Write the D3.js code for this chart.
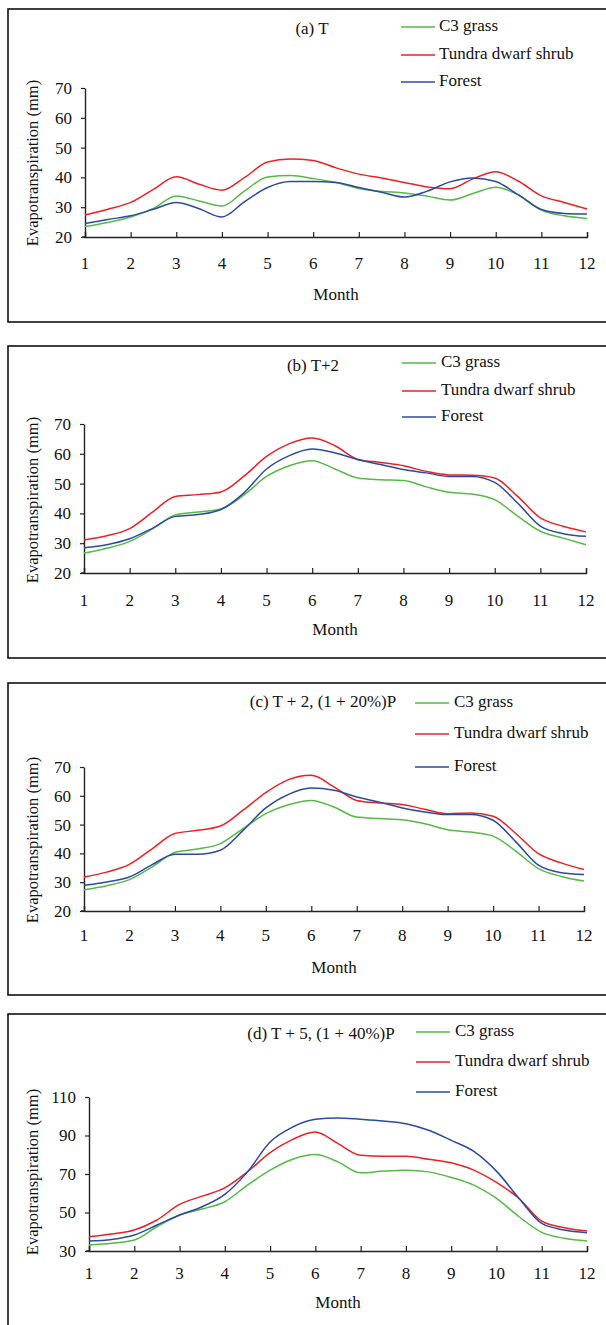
<!DOCTYPE html>
<html>
<head>
<meta charset="utf-8">
<script src="https://cdn.jsdelivr.net/npm/d3@7"></script>
<style>
  body { margin: 0; background: #fff; }
  svg { display: block; font-family: "Liberation Serif", "Times New Roman", serif; }
</style>
</head>
<body>
<svg width="606" height="1325"></svg>
<script>
  // shared x values (months, half-month steps)
  var months = [1, 1.5, 2, 2.5, 3, 3.5, 4, 4.5, 5, 5.5, 6, 6.5, 7, 7.5, 8, 8.5, 9, 9.5, 10, 10.5, 11, 11.5, 12];
  var monthTicks = [1, 2, 3, 4, 5, 6, 7, 8, 9, 10, 11, 12];
  var seriesNames = ["C3 grass", "Tundra dwarf shrub", "Forest"];
  var panelTitles = ["(a) T", "(b) T+2", "(c) T + 2, (1 + 20%)P", "(d) T + 5, (1 + 40%)P"];
  var yTicksABC = [20, 30, 40, 50, 60, 70];
  var yTicksD = [30, 50, 70, 90, 110];

  // (a) T
  var grassA = [23.5, 24.9, 26.7, 29.6, 33.8, 32.1, 30.4, 35.5, 40.1, 40.6, 39.6, 38.3, 36.3, 35.3, 34.8, 33.7, 32.4, 34.6, 36.7, 34.1, 29.0, 27.1, 26.2];
  var shrubA = [27.4, 29.3, 31.6, 36.0, 40.2, 37.7, 35.7, 40.0, 45.2, 46.2, 45.7, 43.2, 41.1, 39.8, 38.3, 36.8, 36.2, 39.5, 41.9, 38.7, 33.8, 31.6, 29.4];
  var forestA = [24.5, 25.9, 27.1, 29.3, 31.6, 29.5, 26.7, 31.9, 36.6, 38.6, 38.6, 38.3, 36.6, 35.0, 33.4, 35.4, 38.5, 39.8, 38.6, 34.1, 29.2, 27.9, 27.7];
  // (b) T+2
  var grassB = [26.7, 28.3, 30.6, 34.8, 39.5, 40.5, 41.5, 46.1, 52.4, 56.0, 57.7, 54.9, 51.9, 51.3, 51.0, 48.9, 47.1, 46.5, 44.6, 39.1, 34.0, 31.7, 29.5];
  var shrubB = [31.1, 32.5, 34.9, 40.4, 45.7, 46.3, 47.2, 52.4, 59.1, 63.4, 65.3, 62.7, 58.1, 57.1, 56.0, 54.1, 52.9, 52.8, 51.9, 45.7, 38.5, 35.7, 33.8];
  var forestB = [28.5, 29.5, 31.5, 35.0, 39.0, 39.6, 41.3, 46.8, 54.9, 59.4, 61.6, 60.3, 58.1, 56.4, 54.7, 53.6, 52.4, 52.4, 50.4, 43.5, 35.7, 33.2, 32.3];
  // (c) T+2, (1+20%)P
  var grassC = [27.4, 28.8, 30.9, 35.3, 40.3, 41.5, 43.4, 48.6, 53.8, 56.9, 58.4, 56.1, 52.6, 52.1, 51.7, 50.3, 48.2, 47.4, 46.0, 40.8, 34.7, 32.0, 30.4];
  var shrubC = [31.8, 33.5, 36.2, 41.6, 46.9, 48.0, 49.5, 55.0, 61.1, 65.6, 67.1, 63.1, 58.4, 57.5, 57.0, 55.3, 53.8, 54.0, 52.9, 46.9, 39.9, 36.7, 34.4];
  var forestC = [28.9, 30.1, 31.8, 36.1, 39.7, 39.7, 41.1, 48.0, 55.8, 60.5, 62.7, 61.9, 59.6, 57.8, 55.8, 54.4, 53.5, 53.5, 51.5, 44.0, 35.9, 33.3, 32.7];
  // (d) T+5, (1+40%)P
  var grassD = [33.1, 34.0, 35.7, 42.6, 48.7, 51.8, 55.6, 64.2, 72.0, 77.7, 80.1, 76.3, 70.6, 71.5, 72.0, 71.1, 68.2, 64.2, 57.3, 47.8, 39.7, 36.6, 35.2];
  var shrubD = [37.4, 38.8, 40.9, 46.1, 54.2, 58.5, 62.8, 71.1, 81.1, 88.0, 91.8, 85.8, 79.7, 79.2, 79.2, 77.7, 75.8, 72.0, 65.6, 57.3, 45.5, 42.1, 40.4];
  var forestD = [35.2, 36.0, 38.3, 43.5, 48.7, 53.0, 59.4, 71.1, 86.6, 94.4, 98.4, 99.1, 98.4, 97.5, 96.1, 92.7, 87.5, 81.8, 71.5, 57.3, 44.3, 40.9, 39.5];

  var colors = ["#56b947", "#ee2024", "#2b4aa2"];
  var fontSize = "17px";
  var serif = "'Liberation Serif', 'Times New Roman', serif";

  // layout of each panel box (pixels)
  var layout = [
    {top: 9, bottom: 322, x0: 85, x1: 587, yTop: 88, yBot: 237, titleX: 312, titleY: 30, legLine: 401, legText: 439, legY: [27, 55, 82], tickY: 265, monthY: 296, labelY: 163},
    {top: 346, bottom: 658, x0: 84, x1: 586, yTop: 424, yBot: 573, titleX: 313, titleY: 367, legLine: 402, legText: 441, legY: [363, 391, 417], tickY: 602, monthY: 631, labelY: 500},
    {top: 683, bottom: 995, x0: 84, x1: 584, yTop: 767, yBot: 911, titleX: 323, titleY: 703, legLine: 415, legText: 454, legY: [703, 734, 767], tickY: 937, monthY: 969, labelY: 840},
    {top: 1014, bottom: 1345, x0: 89, x1: 587, yTop: 1097, yBot: 1251, titleX: 321, titleY: 1035, legLine: 416, legText: 455, legY: [1032, 1062, 1092], tickY: 1275, monthY: 1304, labelY: 1172}
  ];

  var panelData = [[grassA, shrubA, forestA], [grassB, shrubB, forestB], [grassC, shrubC, forestC], [grassD, shrubD, forestD]];
  var panelTicks = [yTicksABC, yTicksABC, yTicksABC, yTicksD];

  var svg = d3.select("svg");

  function addText(x, y, str, anchor) {
    return svg.append("text").attr("x", x).attr("y", y)
      .attr("text-anchor", anchor).attr("dominant-baseline", "middle")
      .style("font-size", fontSize).style("font-family", serif).attr("fill", "#111").text(str);
  }

  function drawPanel(p, i) {
    var L = layout[i];
    var ticks = panelTicks[i];
    svg.append("rect").attr("x", 8).attr("y", L.top).attr("width", 640).attr("height", L.bottom - L.top)
      .attr("fill", "none").attr("stroke", "#111").attr("stroke-width", 1.6);

    var x = d3.scaleLinear().domain([1, 12]).range([L.x0, L.x1]);
    var y = d3.scaleLinear().domain([ticks[0], ticks[ticks.length - 1]]).range([L.yBot, L.yTop]);

    // y axis
    var gy = svg.append("g").attr("transform", "translate(" + L.x0 + ",0)")
      .call(d3.axisLeft(y).tickValues(ticks).tickSize(4).tickPadding(9).tickSizeOuter(0));
    // x axis, ticks pointing up into the plot
    var gx = svg.append("g").attr("transform", "translate(0," + L.yBot + ")")
      .call(d3.axisBottom(x).tickValues(monthTicks).tickSize(-5).tickFormat(""));
    [gx, gy].forEach(function(g) {
      g.attr("font-family", null);
      g.select(".domain").attr("stroke", "#222").attr("stroke-width", 1.4);
      g.selectAll(".tick line").attr("stroke", "#222").attr("stroke-width", 1.2);
      g.selectAll("text").style("font-size", fontSize).style("font-family", serif).attr("fill", "#111");
    });
    // small hook at the origin
    svg.append("line").attr("x1", L.x0 - 3).attr("x2", L.x0).attr("y1", L.yBot).attr("y2", L.yBot).attr("stroke", "#222").attr("stroke-width", 1.4);

    monthTicks.forEach(function(m) { addText(x(m), L.tickY, m, "middle"); });
    addText((L.x0 + L.x1) / 2, L.monthY, "Month", "middle");
    addText(L.titleX, L.titleY, panelTitles[i], "middle");

    svg.append("text").attr("transform", "translate(34," + L.labelY + ") rotate(-90)")
      .attr("text-anchor", "middle").attr("dominant-baseline", "middle")
      .style("font-size", "16.5px").style("font-family", serif).attr("fill", "#111").text("Evapotranspiration (mm)");

    var line = d3.line().x(function(d, k) { return x(months[k]); }).y(function(d) { return y(d); }).curve(d3.curveMonotoneX);

    p.forEach(function(vals, s) {
      svg.append("path").datum(vals).attr("d", line)
        .attr("fill", "none").attr("stroke", colors[s]).attr("stroke-width", 1.5);
      svg.append("line").attr("x1", L.legLine).attr("x2", L.legLine + 34).attr("y1", L.legY[s]).attr("y2", L.legY[s])
        .attr("stroke", colors[s]).attr("stroke-width", 1.5);
      addText(L.legText, L.legY[s], seriesNames[s], "start");
    });
  }

  panelData.forEach(drawPanel);
</script>
</body>
</html>
